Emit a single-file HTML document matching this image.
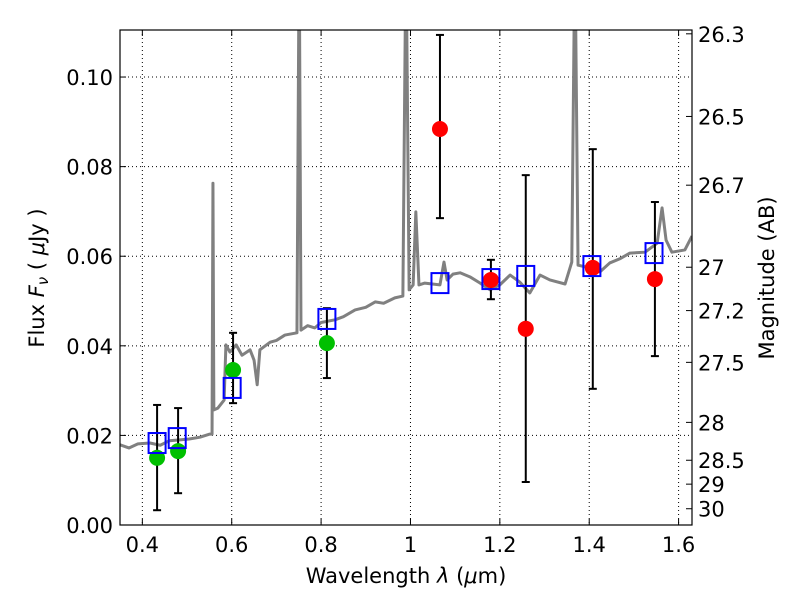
<!DOCTYPE html>
<html><head><meta charset="utf-8"><style>
body{margin:0;background:#fff;}
svg{font-family:"DejaVu Sans","Liberation Sans",sans-serif;}
</style></head><body>
<svg id="c" width="800" height="600" xmlns="http://www.w3.org/2000/svg"></svg>
<script>
const specLam=[0.350,0.370,0.390,0.417,0.440,0.460,0.484,0.505,0.529,0.551,0.556,0.558,0.560,0.569,0.583,0.587,0.596,0.610,0.623,0.641,0.650,0.657,0.663,0.686,0.700,0.719,0.746,0.751,0.755,0.770,0.786,0.800,0.831,0.850,0.876,0.900,0.921,0.940,0.965,0.983,0.990,0.997,1.006,1.012,1.019,1.032,1.066,1.075,1.082,1.095,1.111,1.133,1.156,1.178,1.200,1.223,1.245,1.267,1.290,1.312,1.346,1.361,1.368,1.375,1.402,1.424,1.446,1.470,1.491,1.525,1.552,1.563,1.572,1.585,1.614,1.630];
const specFlux=[0.0179,0.0172,0.0181,0.0183,0.0178,0.0188,0.0190,0.0192,0.0196,0.0203,0.0203,0.0763,0.0257,0.0261,0.0279,0.0402,0.0386,0.0402,0.0379,0.0391,0.0368,0.0313,0.0391,0.0408,0.0412,0.0424,0.0429,0.13,0.0435,0.0445,0.0440,0.0452,0.0458,0.0465,0.0480,0.0486,0.0498,0.0495,0.0507,0.0511,0.13,0.0525,0.0536,0.0699,0.0536,0.0540,0.0536,0.0587,0.0547,0.0560,0.0563,0.0554,0.0540,0.0525,0.0536,0.0558,0.0542,0.0518,0.0558,0.0547,0.0538,0.0587,0.13,0.0580,0.0574,0.0565,0.0585,0.0595,0.0607,0.0609,0.0629,0.0708,0.0636,0.0609,0.0614,0.0645];
const modelLam=[0.433,0.478,0.601,0.813,1.066,1.180,1.258,1.406,1.545];
const modelFlux=[0.0183,0.0194,0.0306,0.0460,0.0540,0.0549,0.0556,0.0578,0.0607];
const greenLam=[0.433,0.480,0.603,0.813];
const greenFlux=[0.0150,0.0165,0.0346,0.0406];
const greenLo=[0.0033,0.0071,0.0272,0.0328];
const greenHi=[0.0268,0.0261,0.0429,0.0484];
const redLam=[1.066,1.180,1.258,1.408,1.547];
const redFlux=[0.0884,0.0547,0.0438,0.0574,0.0549];
const redLo=[0.0685,0.0504,0.0096,0.0304,0.0377];
const redHi=[0.1094,0.0592,0.0781,0.0839,0.0721];
const xTicks=[0.4,0.6,0.8,1.0,1.2,1.4,1.6];
const xTickLabels=["0.4","0.6","0.8","1","1.2","1.4","1.6"];
const yTicks=[0,0.02,0.04,0.06,0.08,0.10];
const yTickLabels=["0.00","0.02","0.04","0.06","0.08","0.10"];
const magTicks=[26.3,26.5,26.7,27,27.2,27.5,28,28.5,29,30];
const magLabels=["26.3","26.5","26.7","27","27.2","27.5","28","28.5","29","30"];

const L=120,R=692,T=30,B=525,X0=0.35,X1=1.63,Y0=0,Y1=0.1105;
const sx=v=>L+(v-X0)/(X1-X0)*(R-L);
const sy=v=>B-(v-Y0)/(Y1-Y0)*(B-T);
const magToFlux=m=>Math.pow(10,(23.9-m)/2.5);
const svg=document.getElementById('c');
const NS='http://www.w3.org/2000/svg';
function mk(tag,attrs,parent){const e=document.createElementNS(NS,tag);for(const k in attrs)e.setAttribute(k,attrs[k]);(parent||svg).appendChild(e);return e;}

const defs=mk('defs',{});
const cp=mk('clipPath',{id:'clip'},defs);mk('rect',{x:L,y:T,width:R-L,height:B-T},cp);

xTicks.forEach((t,i)=>{
  const g=mk('line',{x1:sx(t),x2:sx(t),y1:T,y2:B,stroke:'#000','stroke-width':1,'stroke-dasharray':'1,3'});
  
  
  const tk=mk('line',{x1:sx(t),x2:sx(t),y1:B,y2:B-6,stroke:'#000'});
  
  
  mk('line',{x1:sx(t),x2:sx(t),y1:T,y2:T+6,stroke:'#000'});
  const tx=mk('text',{x:sx(t),y:B+27,'text-anchor':'middle','font-size':21});
  tx.textContent=xTickLabels[i];
  
  
});
yTicks.forEach((t,i)=>{
  const g=mk('line',{x1:L,x2:R,y1:sy(t),y2:sy(t),stroke:'#000','stroke-width':1,'stroke-dasharray':'1,3'});
  
  
  mk('line',{x1:L,x2:L+6,y1:sy(t),y2:sy(t),stroke:'#000'});
  const tx=mk('text',{x:L-7,y:sy(t)+8,'text-anchor':'end','font-size':21});
  tx.textContent=yTickLabels[i];
  
  
});
magTicks.forEach((m,i)=>{
  const y=sy(magToFlux(m));
  mk('line',{x1:R,x2:R-6,y1:y,y2:y,stroke:'#000'});
  const tx=mk('text',{x:R+6,y:y+8,'text-anchor':'start','font-size':21});
  tx.textContent=magLabels[i];
  
  
});

const plot=mk('g',{'clip-path':'url(#clip)'});


const sp=mk('polyline',{points:specLam.map((l,i)=>sx(l)+','+sy(specFlux[i])).join(' '),fill:'none',stroke:'#808080','stroke-width':3,'stroke-linejoin':'round'},plot);



function errbar(l,lo,hi){
  const x=sx(l);
  mk('line',{x1:x,x2:x,y1:sy(lo),y2:sy(hi),stroke:'#000','stroke-width':2},plot);
  mk('line',{x1:x-4,x2:x+4,y1:sy(lo),y2:sy(lo),stroke:'#000','stroke-width':2},plot);
  mk('line',{x1:x-4,x2:x+4,y1:sy(hi),y2:sy(hi),stroke:'#000','stroke-width':2},plot);
}
greenLam.forEach((l,i)=>{
  errbar(l,greenLo[i],greenHi[i]);
  const c=mk('circle',{cx:sx(l),cy:sy(greenFlux[i]),r:8,fill:'#00c000'},plot);
  
  
});
redLam.forEach((l,i)=>{
  errbar(l,redLo[i],redHi[i]);
  const c=mk('circle',{cx:sx(l),cy:sy(redFlux[i]),r:8,fill:'#ff0000'},plot);
  
  
});
modelLam.forEach((l,i)=>{
  const r=mk('rect',{x:sx(l)-8.5,y:sy(modelFlux[i])-10,width:17,height:20,fill:'none',stroke:'#0000ff','stroke-width':2},plot);
  
  
});

const fr=mk('rect',{x:L,y:T,width:R-L,height:B-T,fill:'none',stroke:'#000','stroke-width':1.2});



const xl=mk('text',{x:406,y:583,'text-anchor':'middle','font-size':21});
xl.innerHTML='Wavelength  <tspan font-style="italic">λ</tspan> (<tspan font-style="italic">μ</tspan>m)';


const yl=mk('text',{x:0,y:0,'text-anchor':'middle','font-size':21,transform:'translate(44,278) rotate(-90)'});
yl.innerHTML='Flux  <tspan font-style="italic">F</tspan><tspan font-style="italic" font-size="15" dy="4">ν</tspan><tspan dy="-4">  ( </tspan><tspan font-style="italic">μ</tspan>Jy )';


const rl=mk('text',{x:0,y:0,'text-anchor':'middle','font-size':21,transform:'translate(774,278) rotate(-90)'});
rl.textContent='Magnitude (AB)';


</script>
</body></html>
